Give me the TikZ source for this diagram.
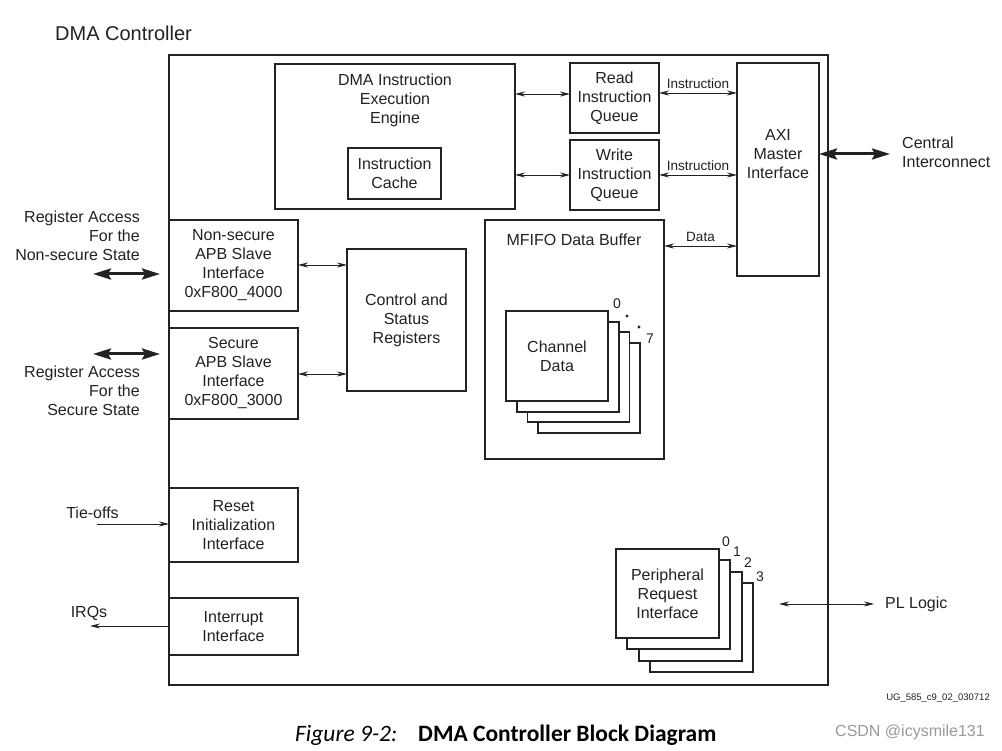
\documentclass[tikz,border=0pt]{standalone}
\usepackage{fontspec}
\setmainfont{Liberation Sans}
\newfontfamily\capfont{Carlito}
\usetikzlibrary{arrows.meta}
\definecolor{ink}{HTML}{222222}
\definecolor{wm}{HTML}{9A9A9A}
\begin{document}
\begin{tikzpicture}[x=1pt,y=-1pt,
  txt/.style={text=ink, font=\fontsize{16}{19}\selectfont, align=center, inner sep=0pt},
  blk/.style={draw=ink, line width=1.8pt, fill=white, align=center, inner sep=0pt, outer sep=0pt,
              text=ink, font=\fontsize{16}{19}\selectfont, anchor=north west},
  outerbox/.style={draw=ink, line width=1.4pt, inner sep=0pt, outer sep=0pt, anchor=north west},
  arr/.style={draw=ink, line width=0.9pt, {Stealth[length=10pt,width=5pt]}-{Stealth[length=10pt,width=5pt]}},
  arrto/.style={draw=ink, line width=0.9pt, -{Stealth[length=10pt,width=5pt]}},
  bigarr/.style={draw=ink, line width=3pt, {Stealth[length=18pt,width=11pt,inset=3pt]}-{Stealth[length=18pt,width=11pt,inset=3pt]}},
  lbl/.style={text=ink, font=\fontsize{13.5}{16}\selectfont, inner sep=0pt},
  num/.style={text=ink, font=\fontsize{14}{16}\selectfont, inner sep=0pt}
]
\useasboundingbox (0,0) rectangle (1002,751);
\fill[white] (0,0) rectangle (1002,751);

% title
\node[txt, anchor=west, font=\fontsize{20}{24}\selectfont] (title) at (55,33) {DMA Controller};

% outer box
\node[outerbox, minimum width=659pt, minimum height=630pt] (dma) at (169,55) {};

% engine
\node[blk, minimum width=240pt, minimum height=145pt] (engine) at (275,64) {};
\node[txt] (enginetxt) at (395,100) {DMA Instruction\\Execution\\Engine};
\node[blk, minimum width=93pt, minimum height=51pt] (cache) at (348,148) {Instruction\\Cache};

% queues
\node[blk, minimum width=89pt, minimum height=70pt] (riq) at (570,63) {Read\\Instruction\\Queue};
\node[blk, minimum width=89pt, minimum height=70pt] (wiq) at (570,140) {Write\\Instruction\\Queue};

% AXI
\node[blk, minimum width=82pt, minimum height=213pt] (axi) at (737,63) {};
\node[txt] (axitxt) at (778,154) {AXI\\Master\\Interface};

% MFIFO
\node[blk, minimum width=179pt, minimum height=239pt] (mfifo) at (485,220) {};
\node[txt] (mfifotxt) at (574,240) {MFIFO Data Buffer};

% channel stack
\foreach \k in {3,2,1} {
  \node[blk, minimum width=102pt, minimum height=90pt] (ch\k) at (506+10.7*\k,311+10.7*\k) {};
}
\node[blk, minimum width=102pt, minimum height=90pt] (chdata) at (506,311) {Channel\\Data};
\node[num] (c0) at (617,304) {0};
\fill[ink] (627,316) circle (1.6);
\fill[ink] (639,327) circle (1.6);
\node[num] (c7) at (650,339) {7};

% APB
\node[blk, minimum width=129pt, minimum height=91pt] (nsapb) at (169,220) {Non-secure\\APB Slave\\Interface\\0xF800\_4000};
\node[blk, minimum width=129pt, minimum height=91pt] (sapb) at (169,328) {Secure\\APB Slave\\Interface\\0xF800\_3000};
\node[blk, minimum width=119pt, minimum height=142pt] (csr) at (347,249) {Control and\\Status\\Registers};

% reset / interrupt
\node[blk, minimum width=129pt, minimum height=74pt] (reset) at (169,488) {Reset\\Initialization\\Interface};
\node[blk, minimum width=129pt, minimum height=57pt] (irq) at (169,598) {Interrupt\\Interface};

% peripheral stack
\foreach \k in {3,2,1} {
  \node[blk, minimum width=103pt, minimum height=89pt] (pr\k) at (616+11.3*\k,549+11.3*\k) {};
}
\node[blk, minimum width=103pt, minimum height=89pt] (preq) at (616,549) {Peripheral\\Request\\Interface};
\node[num] (p0) at (726,542) {0};
\node[num] (p1) at (737,552) {1};
\node[num] (p2) at (748,563) {2};
\node[num] (p3) at (760,577) {3};

% internal connectors
\draw[arr] (engine.east |- 0,94) -- (riq.west |- 0,94);
\draw[arr] (engine.east |- 0,175) -- (wiq.west |- 0,175);
\draw[arr] (riq.east |- 0,93) -- node[lbl, above=4pt] (l1) {Instruction} (axi.west |- 0,93);
\draw[arr] (wiq.east |- 0,175) -- node[lbl, above=4pt] (l2) {Instruction} (axi.west |- 0,175);
\draw[arr] (mfifo.east |- 0,246) -- node[lbl, above=4pt] (l3) {Data} (axi.west |- 0,246);
\draw[arr] (nsapb.east |- 0,265) -- (csr.west |- 0,265);
\draw[arr] (sapb.east |- 0,374) -- (csr.west |- 0,374);

% external connectors
\coordinate (nsext) at (93,274);
\coordinate (nsin) at (160,274);
\coordinate (sext) at (93,354);
\coordinate (sin) at (160,354);
\draw[bigarr] (nsext) -- (nsin);
\draw[bigarr] (sext) -- (sin);
\node[txt, align=right, anchor=east] (nslbl) at (140,236) {Register Access\\For the\\Non-secure State};
\node[txt, align=right, anchor=east] (slbl) at (140,391) {Register Access\\For the\\Secure State};

\coordinate (cext) at (890,154);
\draw[bigarr] (axi.east |- 0,154) -- (cext);
\node[txt, align=left, anchor=west] (clbl) at (902,152.5) {Central\\Interconnect};

\coordinate (tie) at (97,524);
\draw[arrto] (tie) -- (reset.west |- 0,524);
\node[txt] (tielbl) at (92.5,513) {Tie-offs};

\coordinate (irqout) at (90,626);
\draw[arrto] (irq.west |- 0,626) -- (irqout);
\node[txt] (irqlbl) at (89,613) {IRQs};

\coordinate (plin) at (779,604);
\coordinate (plout) at (874,604);
\draw[arr] (plin) -- (plout);
\node[txt, anchor=west] (pllbl) at (885,604) {PL Logic};

% footnote
\node[text=ink, font=\fontsize{9.5}{11}\selectfont, anchor=east, inner sep=0pt] (ug) at (990,698) {UG\_585\_c9\_02\_030712};

% caption
\node[text=black, font=\capfont\itshape\fontsize{23.5}{28}\selectfont, anchor=west, inner sep=0pt] (cap1) at (295,735) {Figure 9-2:};
\node[text=black, font=\capfont\bfseries\fontsize{23.5}{28}\selectfont, anchor=west, inner sep=0pt] (cap2) at (418,735) {DMA Controller Block Diagram};
\node[text=wm, font=\fontsize{16}{19}\selectfont, anchor=west, inner sep=0pt] (csdn) at (835,732) {CSDN @icysmile131};
\end{tikzpicture}
\end{document}
